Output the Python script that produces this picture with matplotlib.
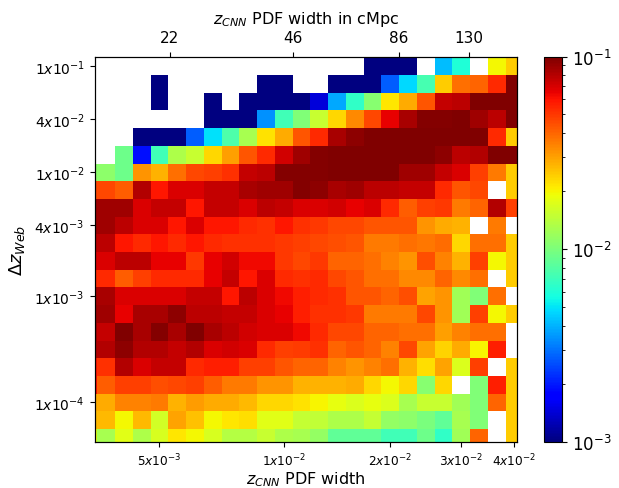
import numpy as np
import matplotlib
matplotlib.use("Agg")
import matplotlib.pyplot as plt
from matplotlib.colors import LogNorm

nan = np.nan
# Fraction per cell; rows listed from top (largest Delta z_Web) to bottom,
# 25 columns from left (smallest PDF width) to right.
row21 = [nan]*16 + [8e-4, 8e-4, 8e-4, nan, 4.2e-3, 6.0e-3, nan, 1.98e-2, 2.45e-2]
row20 = [nan, nan, nan, nan, 8e-4, nan, nan, nan, nan, nan, 8e-4, 8e-4, nan, nan, 8e-4, 8e-4, 8e-4,
         2.7e-3, 4.7e-3, 7.4e-3, 2.45e-2, 3.8e-2, 4.0e-2, 5.4e-2, 0.12]
row19 = [nan, nan, nan, nan, 8e-4, nan, nan, 8e-4, nan, 8e-4, 8e-4, 8e-4, 8e-4, 1.45e-3, 3.8e-3,
         6.5e-3, 1.07e-2, 2.14e-2, 2.85e-2, 4.3e-2, 7.5e-2, 7.8e-2, 0.12, 0.12, 0.12]
row18 = [nan, nan, nan, nan, nan, nan, nan, 8e-4, 8e-4, 8e-4, 3.4e-3, 7.2e-3, 1.03e-2, 1.53e-2, 2.3e-2,
         3.35e-2, 4.65e-2, 6.5e-2, 8.5e-2, 9.7e-2, 9.7e-2, 0.12, 8.8e-2, 7.8e-2, 0.12]
row17 = [nan, nan, nan, 8e-4, 8e-4, 8e-4, 2.7e-3, 4.9e-3, 7.7e-3, 1.27e-2, 2.2e-2, 2.85e-2, 4.3e-2,
         5.4e-2, 8.5e-2, 9.4e-2, 0.12, 0.12, 0.12, 0.12, 0.12, 0.12, 0.12, 5.4e-2, 2.45e-2]
row16 = [nan, nan, 9.3e-3, 1.9e-3, 7.2e-3, 1.32e-2, 1.53e-2, 2.3e-2, 3.05e-2, 4.3e-2, 5.4e-2, 7.2e-2,
         8.8e-2, 9.7e-2, 0.12, 0.12, 0.12, 0.12, 0.12, 0.12, 9.4e-2, 7.8e-2, 8.2e-2, 0.12, 0.12]
row15 = [1.1e-2, 1.1e-2, 9.3e-3, 3.2e-2, 2.75e-2, 3.8e-2, 4.65e-2, 4.85e-2, 5.2e-2, 7.5e-2, 7.8e-2,
         9.7e-2, 9.7e-2, 9.7e-2, 0.12, 0.12, 0.12, 0.12, 8.8e-2, 8.8e-2, 7.5e-2, 6.9e-2, 4.85e-2,
         3.65e-2, 2.45e-2]
row14 = [4.65e-2, 4.65e-2, 4.15e-2, 8.2e-2, 5.9e-2, 6.9e-2, 6.9e-2, 7.5e-2, 7.5e-2, 8.5e-2, 8.8e-2,
         8.8e-2, 9.7e-2, 9.4e-2, 8.5e-2, 8.8e-2, 7.8e-2, 7.8e-2, 7.5e-2, 7.5e-2, 5.4e-2, 4.3e-2,
         4.65e-2, nan, 2.45e-2]
row13 = [8.8e-2, 8.8e-2, 8.8e-2, 6.9e-2, 7.5e-2, 7.5e-2, 5.9e-2, 7.5e-2, 7.5e-2, 6.9e-2, 7.8e-2,
         7.5e-2, 6.9e-2, 6.9e-2, 7.2e-2, 6.5e-2, 6.9e-2, 5.4e-2, 4.15e-2, 4.85e-2, 5.0e-2, 3.65e-2,
         4.0e-2, 8.2e-2, 4.85e-2]
row12 = [8.8e-2, 8.8e-2, 7.8e-2, 6.9e-2, 6.9e-2, 5.9e-2, 6.9e-2, 5.9e-2, 5.9e-2, 5.4e-2, 5.2e-2,
         5.9e-2, 5.2e-2, 5.0e-2, 4.65e-2, 4.65e-2, 4.3e-2, 4.3e-2, 4.3e-2, 3.2e-2, 2.85e-2, 2.75e-2,
         nan, 3.65e-2, nan]
row11 = [7.8e-2, 7.8e-2, 5.9e-2, 5.4e-2, 5.9e-2, 5.4e-2, 5.9e-2, 5.4e-2, 5.2e-2, 5.2e-2, 5.2e-2,
         5.0e-2, 4.85e-2, 4.65e-2, 4.5e-2, 4.3e-2, 3.65e-2, 3.6e-2, 3.8e-2, 3.7e-2, 3.9e-2, 2.3e-2,
         3.8e-2, 3.8e-2, 2.45e-2]
row10 = [6.9e-2, 6.9e-2, 7.8e-2, 7.8e-2, 6.5e-2, 6.5e-2, 5.0e-2, 6.5e-2, 7.2e-2, 6.3e-2, 6.3e-2,
         5.0e-2, 4.65e-2, 5.0e-2, 4.0e-2, 4.0e-2, 3.8e-2, 3.5e-2, 3.2e-2, 4.5e-2, 3.5e-2, 2.75e-2,
         4.85e-2, 1.98e-2, 2.45e-2]
row9 = [5.4e-2, 5.4e-2, 4.15e-2, 4.85e-2, 5.4e-2, 5.4e-2, 5.4e-2, 6.5e-2, 7.5e-2, 5.9e-2, 6.9e-2,
        5.4e-2, 5.2e-2, 5.4e-2, 4.65e-2, 4.3e-2, 3.8e-2, 3.8e-2, 3.35e-2, 3.35e-2, 4.0e-2, 3.35e-2,
        3.8e-2, nan, 2.45e-2]
row8 = [8.5e-2, 8.5e-2, 6.9e-2, 6.9e-2, 6.9e-2, 6.9e-2, 7.5e-2, 7.5e-2, 5.9e-2, 7.8e-2, 6.9e-2,
        6.3e-2, 5.65e-2, 5.4e-2, 5.2e-2, 4.3e-2, 4.3e-2, 4.0e-2, 4.5e-2, 2.95e-2, 3.2e-2, 1.23e-2,
        1.03e-2, 3.8e-2, nan]
row7 = [8.8e-2, 8.8e-2, 6.5e-2, 8.5e-2, 8.5e-2, 9.4e-2, 7.8e-2, 7.8e-2, 7.5e-2, 7.5e-2, 6.9e-2,
        6.5e-2, 5.65e-2, 5.2e-2, 5.2e-2, 5.0e-2, 3.65e-2, 3.65e-2, 3.65e-2, 4.65e-2, 3.2e-2, 1.23e-2,
        4.85e-2, 1.98e-2, 2.45e-2]
row6 = [8.5e-2, 7.5e-2, 0.12, 8.5e-2, 9.7e-2, 8.5e-2, 0.12, 8.5e-2, 7.8e-2, 7.2e-2, 6.9e-2,
        6.9e-2, 6.3e-2, 5.4e-2, 4.65e-2, 4.65e-2, 4.0e-2, 4.0e-2, 3.8e-2, 3.8e-2, 3.05e-2, 3.5e-2,
        3.8e-2, 3.8e-2, nan]
row5 = [8.2e-2, 8.2e-2, 9.4e-2, 8.2e-2, 8.2e-2, 7.5e-2, 8.2e-2, 6.9e-2, 7.2e-2, 6.9e-2, 5.4e-2,
        4.85e-2, 4.9e-2, 5.2e-2, 4.0e-2, 4.3e-2, 4.0e-2, 3.5e-2, 4.65e-2, 2.95e-2, 2.36e-2, 2.85e-2,
        2.0e-2, 5.65e-2, nan]
row4 = [5.9e-2, 5.2e-2, 8.2e-2, 6.9e-2, 7.5e-2, 7.5e-2, 5.4e-2, 5.65e-2, 5.65e-2, 4.85e-2, 4.85e-2,
        4.3e-2, 4.0e-2, 4.0e-2, 3.5e-2, 3.2e-2, 3.5e-2, 3.8e-2, 2.75e-2, 2.22e-2, 2.95e-2, 1.7e-2,
        4.85e-2, nan, 2.45e-2]
row3 = [6.0e-2, 4.15e-2, 4.85e-2, 4.85e-2, 4.5e-2, 4.65e-2, 4.85e-2, 4.15e-2, 3.65e-2, 3.65e-2,
        3.2e-2, 3.2e-2, 2.75e-2, 2.75e-2, 2.75e-2, 2.85e-2, 2.3e-2, 1.98e-2, 2.3e-2, 1.07e-2, 2.3e-2,
        nan, 1.03e-2, 5.65e-2, 2.45e-2]
row2 = [2.85e-2, 2.85e-2, 3.5e-2, 3.5e-2, 3.65e-2, 2.75e-2, 3.1e-2, 2.85e-2, 2.85e-2, 2.65e-2,
        2.3e-2, 2.3e-2, 2.2e-2, 2.0e-2, 1.82e-2, 1.7e-2, 1.82e-2, 1.7e-2, 1.27e-2, 1.53e-2, 1.53e-2,
        1.23e-2, 1.03e-2, 4.0e-2, 2.45e-2]
row1 = [2.65e-2, 2.65e-2, 1.98e-2, 2.65e-2, 1.62e-2, 2.95e-2, 2.55e-2, 1.95e-2, 2.14e-2, 2.22e-2,
        1.76e-2, 1.76e-2, 1.5e-2, 1.47e-2, 1.32e-2, 1.32e-2, 1.5e-2, 1.15e-2, 1.1e-2, 9.9e-3, 8.6e-3,
        1.27e-2, 1.03e-2, nan, 2.45e-2]
row0 = [1.8e-2, 1.27e-2, 1.76e-2, 1.32e-2, 1.66e-2, 2.14e-2, 1.98e-2, 1.66e-2, 1.37e-2, 1.37e-2,
        1.53e-2, 1.32e-2, 1.27e-2, 1.15e-2, 8.6e-3, 8.6e-3, 8.6e-3, 7.2e-3, 7.2e-3, 9.3e-3, 6.5e-3,
        1.23e-2, 4.0e-2, nan, 2.45e-2]

rows_top_to_bottom = [row21, row20, row19, row18, row17, row16, row15, row14, row13, row12, row11,
                      row10, row9, row8, row7, row6, row5, row4, row3, row2, row1, row0]

xtick_labels = [r"$5x10^{-3}$", r"$1x10^{-2}$", r"$2x10^{-2}$", r"$3x10^{-2}$", r"$4x10^{-2}$"]
xtick_bins = [4, 11, 17, 21, 24]
ytick_labels = [r"$1x10^{-1}$", r"$4x10^{-2}$", r"$1x10^{-2}$", r"$4x10^{-3}$", r"$1x10^{-3}$",
                r"$1x10^{-4}$"]
ytick_bins = [21, 18, 15, 12, 8, 2]
top_labels = ["22", "46", "86", "130"]
top_positions = [5.07, 12.0, 17.97, 21.93]

Z = np.array(rows_top_to_bottom[::-1], dtype=float)
Z = np.ma.masked_invalid(Z)
ny, nx = Z.shape
xe = np.arange(nx + 1)
ye = np.arange(ny + 1)

fig = plt.figure(figsize=(6.19, 4.89), dpi=100)
ax = fig.add_axes([0.1527, 0.0947, 0.8352 - 0.1527, 0.8824 - 0.0947])
cmap = plt.get_cmap("jet").copy()
cmap.set_bad("white")
mesh = ax.pcolormesh(xe, ye, Z, cmap=cmap, norm=LogNorm(vmin=1e-3, vmax=1e-1))
ax.set_xlim(0.842, 24.645)
ax.set_ylim(0.2825, 22.05)
ax.set_xticks(np.array(xtick_bins) + 0.5)
ax.set_xticklabels(xtick_labels, fontsize=8.7)
ax.set_yticks(np.array(ytick_bins) + 0.5)
ax.set_yticklabels(ytick_labels, fontsize=10)
ax.set_xlabel(r"$z_{CNN}$ PDF width", fontsize=11.5, labelpad=1)
ax.set_ylabel(r"$\Delta z_{Web}$", fontsize=13, labelpad=5)

ax2 = ax.twiny()
ax2.set_xlim(ax.get_xlim())
ax2.set_xticks(top_positions)
ax2.set_xticklabels(top_labels, fontsize=11)
ax2.tick_params(axis="x", pad=4.5)
ax2.set_xlabel(r"$z_{CNN}$ PDF width in cMpc", fontsize=11.5, labelpad=5)

cax = fig.add_axes([544 / 619, 0.0947, 18 / 619, 0.8824 - 0.0947])
cb = fig.colorbar(mesh, cax=cax)
cb.ax.tick_params(labelsize=12)

fig.savefig("out.png", dpi=100)
